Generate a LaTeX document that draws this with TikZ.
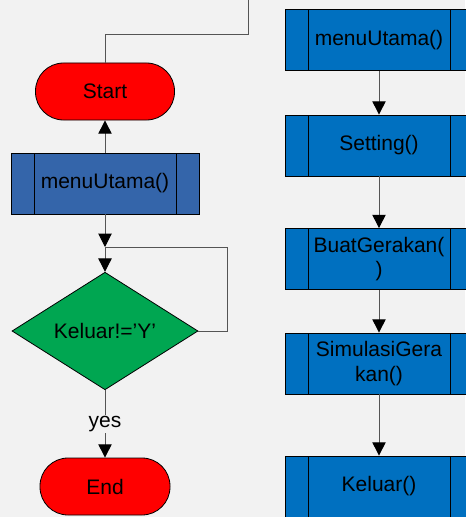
\documentclass[tikz,border=0pt]{standalone}
\usepackage{fontspec}
\setmainfont{Liberation Sans}
\usetikzlibrary{shapes.geometric,arrows.meta}

\definecolor{bg}{RGB}{242,242,242}
\definecolor{termred}{RGB}{255,0,0}
\definecolor{condgreen}{RGB}{0,166,81}
\definecolor{menublue}{RGB}{52,101,170}
\definecolor{subblue}{RGB}{0,112,192}
\definecolor{wire}{RGB}{85,85,85}

\begin{document}
\begin{tikzpicture}[x=0.75pt,y=-0.75pt,
  every node/.style={font=\fontsize{15.75}{18.5}\selectfont},
  term/.style={draw=black,line width=0.6pt,fill=termred,rounded corners=21pt,
    minimum height=42.75pt},
  sub/.style={draw=black,line width=0.6pt,minimum width=141pt,minimum height=45.75pt,
    align=center,inner sep=0pt,
    path picture={
      \draw ([xshift=17.25pt]path picture bounding box.north west)
        -- ([xshift=17.25pt]path picture bounding box.south west);
      \draw ([xshift=-17.25pt]path picture bounding box.north east)
        -- ([xshift=-17.25pt]path picture bounding box.south east);}},
  cond/.style={diamond,draw=black,line width=0.6pt,fill=condgreen,inner sep=0pt,
    minimum width=139.5pt,minimum height=84.75pt},
  wireline/.style={draw=wire,line width=0.75pt},
  arr/.style={wireline,-{Triangle[length=10pt,width=10pt,color=black]}}]

\path[use as bounding box,fill=bg] (0,0) rectangle (465,517);

% main program
\node[term,minimum width=104.25pt] (start) at (105,91.5) {Start};
\node[sub,fill=menublue] (menuL) at (105,183.5) {menuUtama()};
\node[cond] (keluar) at (105,331) {Keluar!=’Y’};
\node[term,minimum width=97.5pt] (end) at (105,486.5) {End};

\coordinate (bend) at (248,35);
\coordinate (top) at (248,0);
\coordinate (join) at (105,247);
\coordinate (loop) at (227,247);

\draw[wireline] (start.north) |- (bend) -- (top);
\draw[arr] (menuL) -- (start);
\draw[arr] (menuL) -- (join);
\draw[arr] (join) -- (keluar.north);
\draw[wireline] (keluar.east) -| (loop) -- (join);
\draw[arr] (keluar) -- node[fill=bg,inner sep=1pt] (yes) {yes} (end);

% procedures
\node[sub,fill=subblue] (r1) at (379,40) {menuUtama()};
\node[sub,fill=subblue] (r2) at (379,145.5) {Setting()};
\node[sub,fill=subblue] (r3) at (379,259) {BuatGerakan(\\)};
\node[sub,fill=subblue] (r4) at (379,363.5) {SimulasiGera\\kan()};
\node[sub,fill=subblue] (r5) at (379,486.5) {Keluar()};

\draw[arr] (r1) -- (r2);
\draw[arr] (r2) -- (r3);
\draw[arr] (r3) -- (r4);
\draw[arr] (r4) -- (r5);
\end{tikzpicture}
\end{document}
